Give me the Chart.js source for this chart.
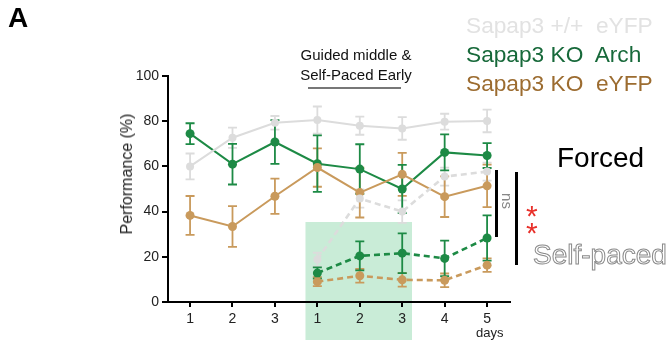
<!DOCTYPE html>
<html>
<head>
<meta charset="utf-8">
<script src="https://cdn.jsdelivr.net/npm/chart.js@4.4.1/dist/chart.umd.min.js"></script>
<style>
  body { margin: 0; background: #fff; font-family: "Liberation Sans", Arial, sans-serif; }
  #wrap { position: relative; width: 672px; height: 347px; overflow: hidden; }
  .lbl { position: absolute; white-space: pre; line-height: 1; }
</style>
</head>
<body>
<div id="wrap">
  <canvas id="c" width="672" height="347"></canvas>
  <div class="lbl" style="left:8px;top:4px;font-size:28px;font-weight:bold;">A</div>
  <div class="lbl" style="left:466px;top:14px;font-size:22.7px;color:#e2e2e2;">Sapap3 +/+  eYFP</div>
  <div class="lbl" style="left:466px;top:43px;font-size:22.7px;color:#17693a;">Sapap3 KO  Arch</div>
  <div class="lbl" style="left:466px;top:72px;font-size:22.7px;color:#9c6c30;">Sapap3 KO  eYFP</div>
  <div class="lbl" style="left:296px;top:45px;width:120px;text-align:center;font-size:15px;line-height:20px;color:#111;">Guided middle &amp;
Self-Paced Early</div>
  <div style="position:absolute;left:308px;top:87px;width:93px;height:2px;background:#777;"></div>
  <div class="lbl" style="left:127px;top:174px;font-size:16px;color:#222;transform:translate(-50%,-50%) rotate(-90deg);">Performance (%)</div>
  <div class="lbl" style="left:476px;top:326px;font-size:13px;color:#222;">days</div>
  <div class="lbl" style="left:557px;top:144px;font-size:28px;color:#000;">Forced</div>
  <div class="lbl" style="left:533px;top:241px;font-size:28px;color:#fff;-webkit-text-stroke:1px #8a8a8a;">Self-paced</div>
  <div style="position:absolute;left:495px;top:170px;width:3px;height:67px;background:#000;"></div>
  <div style="position:absolute;left:515px;top:172px;width:3px;height:93px;background:#000;"></div>
  <div class="lbl" style="left:507px;top:201px;font-size:15px;color:#888;transform:translate(-50%,-50%) rotate(90deg);">ns</div>
  <div class="lbl" style="left:526px;top:201px;font-size:30px;color:#e8302a;">*</div>
  <div class="lbl" style="left:526px;top:218px;font-size:30px;color:#e8302a;">*</div>
</div>
<script>
// session positions along the x axis and their printed labels
const days = [1, 2, 3, 4, 5, 6, 7, 8];
const dayLabels = ['1', '2', '3', '1', '2', '3', '4', '5'];

// forced trials
const wtForced = [60, 72.7, 79.3, 80.5, 78, 76.8, 79.8, 80.1];
const wtForcedErr = [5.7, 4.5, 3, 6, 4, 5, 3.5, 5];
const archForced = [74.5, 61, 70.8, 61.2, 58.8, 50, 66.2, 64.8];
const archForcedErr = [4.6, 9, 9.7, 12.5, 11, 10.7, 8, 5.5];
const yfpForced = [38.3, 33.4, 46.8, 59.5, 48.4, 56.5, 46.6, 51.4];
const yfpForcedErr = [8.6, 9, 7.8, 8.5, 11, 9.5, 9, 9.4];

// self-paced trials (from the 4th session on)
const wtSelf = [null, null, null, 18.8, 45.8, 40, 55.5, 57.7];
const wtSelfErr = [0, 0, 0, 3, 4, 5, 4, 4];
const archSelf = [null, null, null, 12.8, 20.4, 21.6, 19.3, 28.3];
const archSelfErr = [0, 0, 0, 2.5, 6.4, 8.8, 7.9, 10];
const yfpSelf = [null, null, null, 9, 11.6, 9.8, 9.6, 16.3];
const yfpSelfErr = [0, 0, 0, 2, 3, 3, 3, 3];

const gray = '#dcdcdc';
const green = '#1d8a45';
const brown = '#c99a5c';

function pts(vals) {
  return days.map((d, i) => ({ x: d, y: vals[i] }));
}

function series(vals, errs, color, dashed, r) {
  return {
    data: pts(vals),
    errs: errs,
    borderColor: color,
    backgroundColor: color,
    borderWidth: dashed ? 2.6 : 2,
    borderDash: dashed ? [6, 4] : [],
    pointRadius: r,
    pointBorderWidth: 0,
    spanGaps: false,
    tension: 0
  };
}

const shade = {
  id: 'shade',
  beforeDraw(chart) {
    const x = chart.scales.x, y = chart.scales.y, ctx = chart.ctx;
    const x0 = x.getPixelForValue(3.72), x1 = x.getPixelForValue(6.23);
    const y0 = y.getPixelForValue(35.4), y1 = y.getPixelForValue(0) + 38;
    ctx.save();
    ctx.fillStyle = '#c9ecd7';
    ctx.fillRect(x0, y0, x1 - x0, y1 - y0);
    ctx.restore();
  }
};

const errorBars = {
  id: 'errorBars',
  beforeDatasetsDraw(chart) {
    const ctx = chart.ctx, y = chart.scales.y;
    chart.data.datasets.forEach((ds, k) => {
      const meta = chart.getDatasetMeta(k);
      ctx.save();
      ctx.strokeStyle = ds.borderColor;
      ctx.lineWidth = 1.8;
      ds.data.forEach((p, i) => {
        if (p.y === null || !ds.errs[i]) return;
        const px = meta.data[i].x;
        const top = y.getPixelForValue(p.y + ds.errs[i]);
        const bot = y.getPixelForValue(p.y - ds.errs[i]);
        ctx.beginPath();
        ctx.moveTo(px, top); ctx.lineTo(px, bot);
        ctx.moveTo(px - 4.5, top); ctx.lineTo(px + 4.5, top);
        ctx.moveTo(px - 4.5, bot); ctx.lineTo(px + 4.5, bot);
        ctx.stroke();
      });
      ctx.restore();
    });
  }
};

new Chart(document.getElementById('c'), {
  type: 'line',
  data: {
    datasets: [
      series(wtForced, wtForcedErr, gray, false, 4),
      series(wtSelf, wtSelfErr, gray, true, 4),
      series(yfpForced, yfpForcedErr, brown, false, 4.5),
      series(yfpSelf, yfpSelfErr, brown, true, 4.5),
      series(archForced, archForcedErr, green, false, 4.5),
      series(archSelf, archSelfErr, green, true, 4.5)
    ]
  },
  options: {
    responsive: false,
    animation: false,
    layout: { padding: { top: 76, right: 162, left: 0, bottom: 0 } },
    plugins: {
      legend: { display: false },
      tooltip: { enabled: false }
    },
    scales: {
      x: {
        type: 'linear',
        min: 0.48,
        max: 8.54,
        afterFit: function (axis) { axis.height = 45; },
        afterBuildTicks: function (axis) { axis.ticks = days.map(d => ({ value: d })); },
        border: { display: true, color: '#000', width: 2 },
        grid: { display: true, drawOnChartArea: false, drawTicks: true, tickLength: 5, color: '#000', lineWidth: 2 },
        ticks: {
          padding: 4,
          color: '#222',
          font: { family: 'Liberation Sans', size: 14 },
          callback: function (v) { return dayLabels[days.indexOf(v)]; }
        }
      },
      y: {
        min: 0,
        max: 100,
        afterFit: function (axis) { axis.width = 168; },
        border: { display: true, color: '#000', width: 2 },
        grid: { display: true, drawOnChartArea: false, drawTicks: true, tickLength: 6, color: '#000', lineWidth: 2 },
        ticks: {
          stepSize: 20,
          padding: 3,
          color: '#222',
          font: { family: 'Liberation Sans', size: 14 }
        }
      }
    }
  },
  plugins: [shade, errorBars]
});
</script>
</body>
</html>
